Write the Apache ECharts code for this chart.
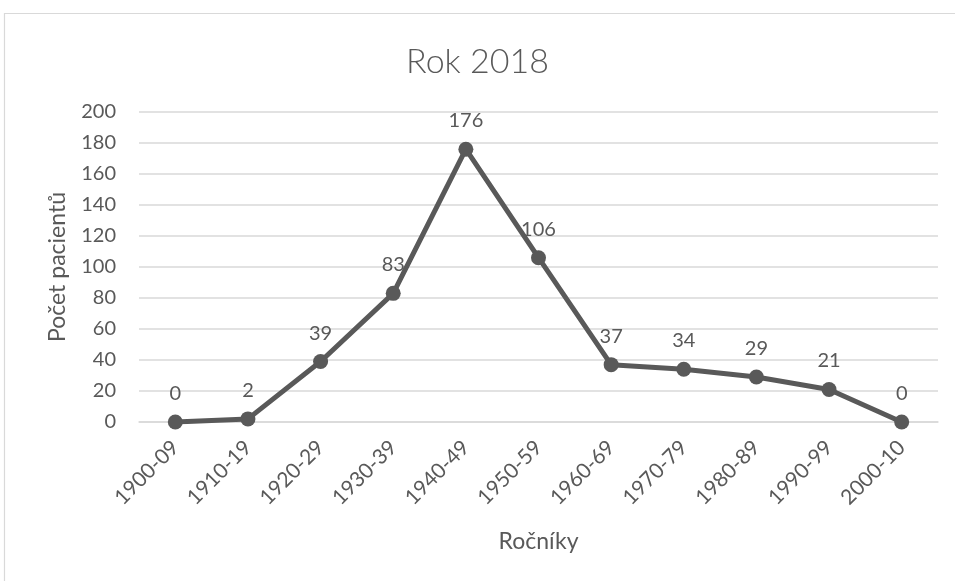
<!DOCTYPE html>
<html>
<head>
<meta charset="utf-8">
<script src="https://cdn.jsdelivr.net/npm/echarts@6/dist/echarts.min.js"></script>
<style>
  html, body { margin: 0; padding: 0; background: #ffffff; }
  #chart { width: 955px; height: 581px; }
</style>
</head>
<body>
<div id="chart"></div>
<script>
// Birth-decade cohorts and patient counts for 2018
const cohorts = ['1900-09', '1910-19', '1920-29', '1930-39', '1940-49', '1950-59',
                 '1960-69', '1970-79', '1980-89', '1990-99', '2000-10'];
const patients = [0, 2, 39, 83, 176, 106, 37, 34, 29, 21, 0];
const yTicks = { min: 0, max: 200, step: 20 };

const titleText = 'Rok 2018';
const yName = 'Počet pacientů';
const xName = 'Ročníky';

const ink = '#595959';
const gridGray = '#d9d9d9';
const font = 'Lato, "Open Sans", sans-serif';

const chart = echarts.init(document.getElementById('chart'), null, { renderer: 'canvas' });

chart.setOption({
  backgroundColor: '#ffffff',
  animation: false,
  graphic: [{
    type: 'rect',
    shape: { x: 4.5, y: 13.5, width: 970, height: 620 },
    style: { fill: 'none', stroke: gridGray, lineWidth: 1.2 },
    silent: true,
    z: -1
  }],
  title: {
    text: titleText,
    left: 'center',
    top: 40,
    textStyle: { fontFamily: font, fontWeight: 300, fontSize: 34, color: ink }
  },
  grid: { left: 139, right: 17, top: 112, bottom: 159 },
  xAxis: {
    type: 'category',
    data: cohorts,
    boundaryGap: true,
    name: xName,
    nameLocation: 'middle',
    nameGap: 108,
    nameTextStyle: { fontFamily: font, fontSize: 23, color: ink },
    axisLine: { show: true, lineStyle: { color: gridGray, width: 1.5 } },
    axisTick: { show: false },
    axisLabel: {
      rotate: 45,
      margin: 22,
      fontFamily: font,
      fontSize: 21,
      color: ink
    }
  },
  yAxis: {
    type: 'value',
    min: yTicks.min,
    max: yTicks.max,
    interval: yTicks.step,
    name: yName,
    nameLocation: 'middle',
    nameGap: 70,
    nameTextStyle: { fontFamily: font, fontSize: 23, color: ink },
    axisLine: { show: false },
    axisTick: { show: false },
    axisLabel: { margin: 23, fontFamily: font, fontSize: 20, color: ink },
    splitLine: { show: true, lineStyle: { color: gridGray, width: 1.5 } }
  },
  series: [{
    type: 'line',
    data: patients,
    symbol: 'circle',
    symbolSize: 15,
    lineStyle: { color: ink, width: 5 },
    itemStyle: { color: ink },
    label: {
      show: true,
      position: 'top',
      distance: 11,
      fontFamily: font,
      fontSize: 20,
      color: ink
    }
  }]
});
</script>
</body>
</html>
